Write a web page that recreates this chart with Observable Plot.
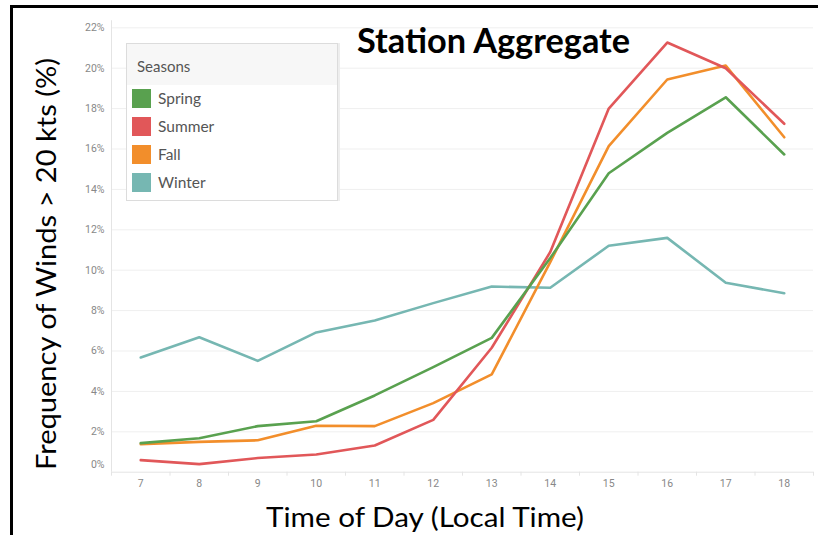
<!DOCTYPE html>
<html><head><meta charset="utf-8">
<script src="https://cdn.jsdelivr.net/npm/d3@7"></script>
<script src="https://cdn.jsdelivr.net/npm/@observablehq/plot@0.6"></script>
<style>
body{margin:0;background:#fff;}
#wrap{position:relative;width:818px;height:535px;overflow:hidden;background:#fff;}
#wrap > svg{position:absolute;left:0;top:0;}
.frame{position:absolute;left:10px;top:5px;width:820px;height:540px;border-left:3px solid #000;border-top:3px solid #000;box-sizing:border-box;}
#legend{position:absolute;left:126px;top:43px;width:210px;height:156px;border:1px solid #dcdcdc;background:#fff;box-shadow:2px 0 0 #eee;font-family:Lato,"Open Sans",sans-serif;color:#555;}
#legend .hd{height:41px;background:#f7f7f7;font-size:15px;line-height:44px;padding-left:10px;}
#legend .row{position:absolute;left:5px;height:19px;font-size:15.5px;line-height:19px;}
#legend .sw{display:inline-block;width:19px;height:19px;vertical-align:top;margin-right:7px;}
</style></head>
<body>
<div id="wrap"></div>
<script>
const hours = [7, 8, 9, 10, 11, 12, 13, 14, 15, 16, 17, 18];
const seasons = ["Spring", "Summer", "Fall", "Winter"];
const colors = ["#59a14f", "#e15759", "#f28e2b", "#76b7b2"];
const spring = [1.44, 1.68, 2.28, 2.52, 3.80, 5.2, 6.65, 10.6, 14.8, 16.8, 18.56, 15.73];
const summer = [0.6, 0.4, 0.7, 0.88, 1.32, 2.59, 6.16, 10.9, 18.0, 21.27, 20.0, 17.25];
const fall = [1.39, 1.5, 1.58, 2.3, 2.28, 3.42, 4.84, 10.4, 16.14, 19.44, 20.13, 16.58];
const winter = [5.68, 6.68, 5.51, 6.92, 7.51, 8.37, 9.19, 9.13, 11.21, 11.6, 9.38, 8.86];
const yTicks = [0, 2, 4, 6, 8, 10, 12, 14, 16, 18, 20, 22];
const title = "Station Aggregate";
const xTitle = "Time of Day (Local Time)";
const yTitle = "Frequency of Winds > 20 kts (%)";

const seriesValues = {Spring: spring, Summer: summer, Fall: fall, Winter: winter};
const drawOrder = ["Winter", "Fall", "Summer", "Spring"];
const data = drawOrder.flatMap(s => hours.map((h, i) => ({season: s, hour: h, value: seriesValues[s][i]})));
const bounds = d3.range(6.5, 19, 1);

const chart = Plot.plot({
  width: 818, height: 535,
  marginLeft: 111, marginRight: 5, marginTop: 27.3, marginBottom: 63.3,
  style: {fontFamily: "Roboto, sans-serif", background: "transparent"},
  x: {domain: [6.5, 18.5]},
  y: {domain: [0, 22]},
  color: {domain: seasons, range: colors},
  marks: [
    Plot.ruleY(yTicks.filter(d => d > 0), {stroke: "#efefef", strokeWidth: 1}),
    Plot.ruleX([6.5], {y1: 0, y2: 22.35, stroke: "#e4e4e4"}),
    Plot.ruleY([0], {stroke: "#e4e4e4"}),
    Plot.axisX(bounds, {tickSize: 4, tickFormat: () => "", stroke: "#e4e4e4", label: null}),
    Plot.axisX(hours, {tickSize: 0, tickPadding: 7, fontSize: 10.5, fill: "#888", label: null}),
    Plot.axisY(yTicks.filter(d => d > 0), {tickSize: 0, tickPadding: 7, fontSize: 10.5, fill: "#888", tickFormat: d => d + "%", label: null}),
    Plot.axisY([0], {tickSize: 0, tickPadding: 7, fontSize: 10.5, fill: "#888", tickFormat: d => d + "%", dy: -8, label: null}),
    Plot.line(data, {x: "hour", y: "value", z: "season", stroke: "season", strokeWidth: 2.6, curve: "linear"})
  ]
});
const wrap = document.getElementById("wrap");
wrap.appendChild(chart);

// frame
const fr = document.createElement("div"); fr.className = "frame"; wrap.appendChild(fr);

// titles (overlay svg)
const ns = "http://www.w3.org/2000/svg";
const ov = document.createElementNS(ns, "svg");
ov.setAttribute("width", 818); ov.setAttribute("height", 535);
ov.style.position = "absolute"; ov.style.left = "0"; ov.style.top = "0";
function addText(str, attrs) {
  const t = document.createElementNS(ns, "text");
  for (const k in attrs) t.setAttribute(k, attrs[k]);
  t.textContent = str; ov.appendChild(t);
}
addText(title, {x: 357, y: 53, "font-family": "Lato, sans-serif", "font-weight": "bold", "font-size": 34, textLength: 273, lengthAdjust: "spacingAndGlyphs", fill: "#000"});
addText(xTitle, {x: 266, y: 527, "font-family": "Lato, sans-serif", "font-size": 27, textLength: 318, lengthAdjust: "spacingAndGlyphs", fill: "#000"});
addText(yTitle, {transform: "translate(56,470) rotate(-90)", "font-family": "Lato, sans-serif", "font-size": 27, textLength: 412, lengthAdjust: "spacingAndGlyphs", fill: "#000"});
wrap.appendChild(ov);

// legend
const lg = document.createElement("div"); lg.id = "legend";
lg.innerHTML = `<div class="hd">Seasons</div>` + seasons.map((s, i) =>
  `<div class="row" style="top:${45 + i * 28}px"><span class="sw" style="background:${colors[i]}"></span>${s}</div>`).join("");
wrap.appendChild(lg);
</script>
</body></html>
